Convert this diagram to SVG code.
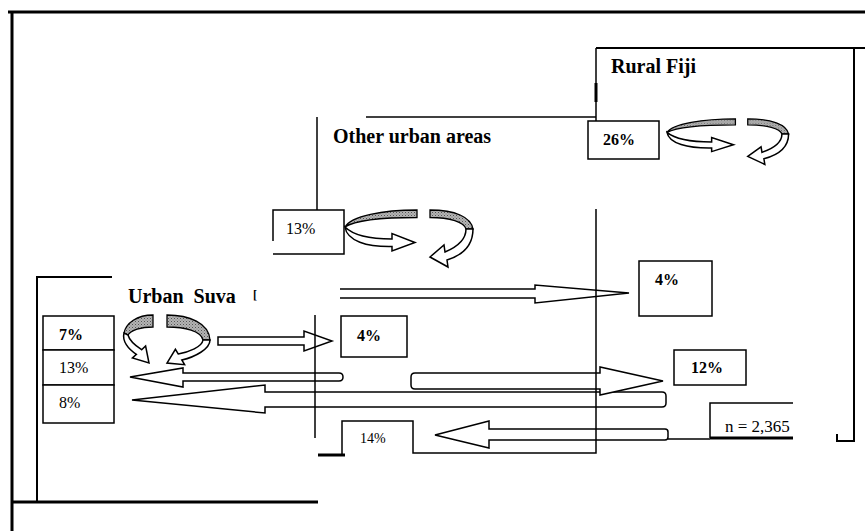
<svg xmlns="http://www.w3.org/2000/svg" width="865" height="531" viewBox="0 0 865 531">
<style>
.ln{fill:none;stroke:#000;stroke-width:1.5}
.tk{fill:none;stroke:#000;stroke-width:3}
.md{fill:none;stroke:#000;stroke-width:2}
.box{fill:#fff;stroke:#000;stroke-width:1.5}
.arr{fill:#fff;stroke:#000;stroke-width:1.5;stroke-linejoin:miter}
.sh{fill:url(#hatch);stroke:#000;stroke-width:1.3;vector-effect:non-scaling-stroke}
.wh{fill:#fff;stroke:#000;stroke-width:1.5;vector-effect:non-scaling-stroke}
.t{font-family:"Liberation Serif","Times New Roman",serif;fill:#000}
.ttl{font-size:20px;font-weight:bold}
.pb{font-size:16px;font-weight:bold}
.pn{font-size:16px}
</style>
<defs>
<pattern id="hatch" width="3" height="3" patternUnits="userSpaceOnUse">
<rect width="3" height="3" fill="#b4b4b4"/>
<rect width="1" height="1" fill="#555"/>
<rect x="1.5" y="1.5" width="1" height="1" fill="#777"/>
</pattern>
<g id="ring">
<path class="sh" d="M72,1 C38,1 6,7 0,18 C9,12 36,8.5 72,8.5 Z"/>
<path class="wh" d="M0,18 C2,32 22,38 47,37.5 L47,42 L70,33.5 L47,24.5 L47,30 C26,30 9,27 0,18 Z"/>
<path class="sh" d="M85,1 C110,1 126,8 128,20 L121,20 C119,13 105,8.5 85,8.5 Z"/>
<path class="wh" d="M128,20 C128,36 118,46 102,51 L103,58 L85,48 L99,36 L100,43 C112,38 121,30 121,20 Z"/>
</g>
</defs>
<rect width="865" height="531" fill="#fff"/>

<g id="connectors">
<path class="arr" d="M218,337 H304 V331 L332,341 L304,351 V345 H218 Z"/>
<path class="arr" d="M340,289 H535 V285 L629,293 L535,303 V298 H340"/>
<path class="arr" d="M183,373 H339 Q343,373 343,377 Q343,381 339,381 H183 V387 L130,377 L183,368 Z"/>
<path class="arr" d="M265,392 H662 Q666,392 666,396 V403 Q666,407 662,407 H265 V413 L132,400 L265,385 Z"/>
<path class="arr" d="M600,373 H415 Q411,373 411,377 V385 Q411,389 415,389 H600 V395 L663,381 L600,367 Z"/>
<path class="arr" d="M489,429 H665 Q668,429 668,432 V437 Q668,440 665,440 H489 V448 L435,435 L489,421 Z"/>
<path class="ln" d="M668,439 H710"/>
</g>

<g id="frame">
<path class="tk" d="M8,12 H865"/>
<path class="tk" d="M12,12 V531"/>
</g>

<g id="rural-fiji">
<path class="md" d="M596,48 H865"/>
<path class="md" d="M854,48 V441 H837 V434"/>
<path class="ln" d="M596,48 V121"/>
<path class="tk" d="M596,83 V102"/>
<path class="ln" d="M596,209 V453 H413 V421 H342 V455"/>
<path class="tk" d="M318,455 H345"/>
<text class="t ttl" x="611" y="73">Rural Fiji</text>
</g>

<g id="other-urban">
<path class="ln" d="M366,117 H596"/>
<path class="ln" d="M317,117 V210"/>
<path class="ln" d="M315,315 V438"/>
<text class="t ttl" x="333" y="143">Other urban areas</text>
</g>

<g id="urban-suva">
<path class="md" d="M112,277 H37 V502"/>
<path class="tk" d="M12,502 H318"/>
<text class="t ttl" x="128" y="303" xml:space="preserve">Urban  Suva</text>
<text class="t" x="253" y="299" font-size="12" font-weight="bold">[</text>
</g>

<g id="box-26">
<rect class="box" x="588" y="121" width="71" height="38"/>
<text class="t pb" x="603" y="145">26%</text>
</g>
<use id="ring-rural" href="#ring" transform="translate(667,118) scale(0.95,0.8)"/>

<g id="box-13-other">
<path class="box" d="M273,241 V210 H344 V254 H273" fill="none"/>
<text class="t pn" x="286" y="234">13%</text>
</g>
<use id="ring-other" href="#ring" transform="translate(345,209)"/>

<g id="ring-suva" transform="translate(123,315)">
<path class="sh" d="M30,0 C14,0 3,8 1,18 L5,20 C8,15 18,12 30,12 Z"/>
<path class="wh" d="M1,18 C-1,26 5,34 13.4,39.3 L9.4,43 L26,48 L22.6,31 L18.6,34.7 C10,29 6,24 5,20 Z"/>
<path class="sh" d="M44,0 C66,0 86,8 87,25 L80,25 C78,16 62,12 44,12 Z"/>
<path class="wh" d="M87,25 C87,34 72,42 58.8,45 L61.6,49.7 L44,48 L52.4,34.3 L55.2,39 C66,37 79,32 80,25 Z"/>
</g>

<g id="box-7">
<rect class="box" x="43" y="316" width="71" height="34"/>
<text class="t pb" x="59" y="340">7%</text>
</g>
<g id="box-13-suva">
<rect class="box" x="43" y="350" width="71" height="35"/>
<text class="t pn" x="59" y="373">13%</text>
</g>
<g id="box-8">
<rect class="box" x="43" y="385" width="71" height="38"/>
<text class="t pn" x="59" y="408">8%</text>
</g>
<g id="box-4-mid">
<rect class="box" x="341" y="316" width="66" height="41"/>
<text class="t pb" x="357" y="341">4%</text>
</g>
<g id="box-4-right">
<rect class="box" x="639" y="261" width="73" height="55"/>
<text class="t pb" x="655" y="285">4%</text>
</g>
<g id="box-12">
<rect class="box" x="674" y="350" width="72" height="35"/>
<text class="t pb" x="691" y="373">12%</text>
</g>
<g id="box-14">
<text class="t" x="360" y="443" font-size="14">14%</text>
</g>
<g id="box-n">
<path class="ln" d="M793,403 H710 V438"/>
<path class="tk" d="M710,438 H793"/>
<text class="t" x="725" y="432" font-size="17">n = 2,365</text>
</g>
</svg>
